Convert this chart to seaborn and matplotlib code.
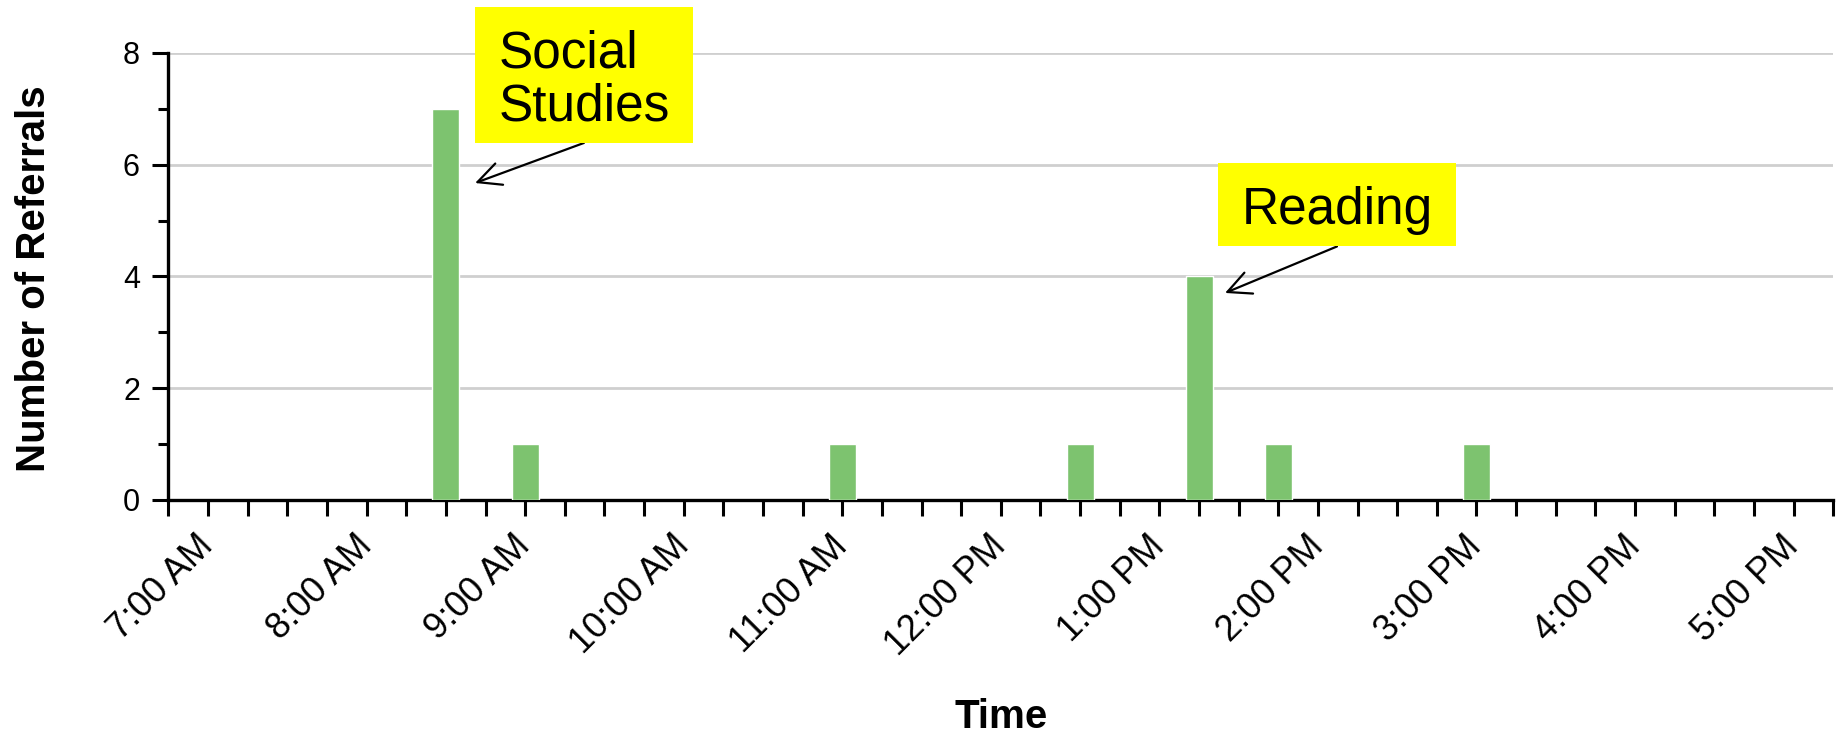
import matplotlib
matplotlib.use("Agg")
import matplotlib.pyplot as plt
import seaborn as sns
from matplotlib.path import Path
from matplotlib.ticker import MultipleLocator

# === DATA ===
slot_labels = ["8:30 AM", "9:00 AM", "11:00 AM", "12:30 PM", "1:15 PM", "1:45 PM", "3:00 PM"]
referrals = [7, 1, 1, 1, 4, 1, 1]
hour_labels = ["7:00 AM", "8:00 AM", "9:00 AM", "10:00 AM", "11:00 AM", "12:00 PM",
               "1:00 PM", "2:00 PM", "3:00 PM", "4:00 PM", "5:00 PM"]
y_ticks = [0, 2, 4, 6, 8]


def to_hours(label):
    hm, ampm = label.split()
    h, m = hm.split(":")
    h = int(h) % 12 + (12 if ampm == "PM" else 0)
    return h + int(m) / 60


slot_hours = [to_hours(s) for s in slot_labels]
hour_ticks = [to_hours(s) for s in hour_labels]


# caixa amarela com mais folga em cima e dos lados
def yellow_box(x0, y0, width, height, mutation_size):
    px, top, bot = 0.45 * mutation_size, 0.44 * mutation_size, 0.22 * mutation_size
    l, r, b, t = x0 - px, x0 + width + px, y0 - bot, y0 + height + top
    return Path([(l, b), (r, b), (r, t), (l, t), (l, b)],
                [Path.MOVETO, Path.LINETO, Path.LINETO, Path.LINETO, Path.CLOSEPOLY])


# === STYLE ===
sns.set_theme(style="white")
plt.rcParams["font.family"] = ["Liberation Sans", "DejaVu Sans"]
plt.rcParams["text.color"] = "black"
plt.rcParams["axes.labelcolor"] = "black"
plt.rcParams["xtick.color"] = "black"
plt.rcParams["ytick.color"] = "black"

fig = plt.figure(figsize=(18.43, 7.36), dpi=100)
ax = fig.add_axes([0.0914, 0.3207, 0.9033, 0.6073])

sns.barplot(x=slot_hours, y=referrals, native_scale=True, width=0.34,
            color="#7DC36F", saturation=1, errorbar=None, ax=ax, zorder=3)

# eixos
ax.set_xlim(hour_ticks[0] - 0.25, hour_ticks[-1] + 0.25)
ax.set_ylim(0, 8)
ax.set_xticks(hour_ticks)
ax.set_xticklabels(hour_labels, rotation=45, ha="right", va="center",
                   rotation_mode="anchor", fontsize=26)
ax.xaxis.set_minor_locator(MultipleLocator(0.25))
ax.set_yticks(y_ticks)
ax.set_yticklabels([str(v) for v in y_ticks], fontsize=22)
ax.yaxis.set_minor_locator(MultipleLocator(1))

ax.tick_params(axis="x", which="both", direction="out", length=11.5, width=2.2,
               bottom=True, pad=18)
ax.tick_params(axis="y", which="major", direction="out", length=11.5, width=2.2,
               left=True, pad=9)
ax.tick_params(axis="y", which="minor", direction="out", length=7.2, width=2.2,
               left=True)

for side in ["top", "right"]:
    ax.spines[side].set_visible(False)
for side in ["left", "bottom"]:
    ax.spines[side].set_color("black")
    ax.spines[side].set_linewidth(2.4)

ax.yaxis.grid(True, color="#cfcfcf", linewidth=2)
ax.xaxis.grid(False)
ax.set_axisbelow(True)

ax.set_xlabel("Time", fontsize=29, fontweight="bold", va="baseline")
ax.xaxis.set_label_coords(0.5, -0.51)
ax.set_ylabel("Number of Referrals", fontsize=29, fontweight="bold", va="center")
ax.yaxis.set_label_coords(-0.081, 0.494)

# === ANOTAÇÕES ===
box = dict(boxstyle=yellow_box, fc="#FFFF00", ec="none")
head = "->,head_length=0.45,head_width=0.22"
ax.annotate("Social\nStudies", xy=(8.684, 5.673), xytext=(9.372, 7.503),
            fontsize=37, ha="center", va="center", multialignment="left",
            linespacing=1.1, bbox=box, zorder=5,
            arrowprops=dict(arrowstyle=head, color="black", lw=1.6,
                            relpos=(0.5, -0.11), shrinkA=0, shrinkB=0))
ax.annotate("Reading", xy=(13.414, 3.705), xytext=(14.12, 5.186),
            fontsize=37, ha="center", va="center", bbox=box, zorder=5,
            arrowprops=dict(arrowstyle=head, color="black", lw=1.6,
                            relpos=(0.5, -0.24), shrinkA=0, shrinkB=0))

fig.savefig("out.png", dpi=100)
